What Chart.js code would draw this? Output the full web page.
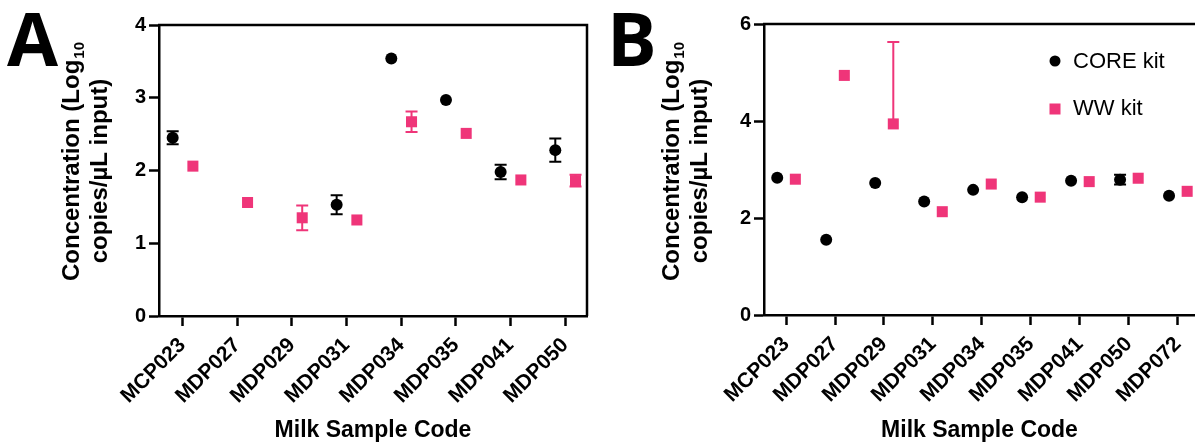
<!DOCTYPE html>
<html>
<head>
<meta charset="utf-8">
<script src="https://cdn.jsdelivr.net/npm/chart.js@4.4.0/dist/chart.umd.min.js"></script>
<style>
  html, body { margin: 0; padding: 0; background: #fff; }
  body { width: 1195px; height: 445px; position: relative; overflow: hidden; }
  .panel { position: absolute; top: 0; height: 445px; }
  #panelA { left: 0; width: 600px; }
  #panelB { left: 600px; width: 595px; }
</style>
</head>
<body>
<div class="panel" id="panelA"><canvas id="chartA"></canvas></div>
<div class="panel" id="panelB"><canvas id="chartB"></canvas></div>
<script>
// ---- Panel A data ----
const samplesA = ['MCP023', 'MDP027', 'MDP029', 'MDP031', 'MDP034', 'MDP035', 'MDP041', 'MDP050'];
const coreA    = [2.45, null, null, 1.53, 3.54, 2.97, 1.98, 2.28];
const coreErrA = [0.09, 0, 0, 0.13, 0, 0, 0.10, 0.16];
const wwA      = [2.06, 1.56, 1.35, 1.32, 2.67, 2.51, 1.87, 1.86];
const wwErrA   = [0, 0, 0.17, 0, 0.14, 0, 0, 0.08];
const yTicksA  = [0, 1, 2, 3, 4];

// ---- Panel B data ----
const samplesB   = ['MCP023', 'MDP027', 'MDP029', 'MDP031', 'MDP034', 'MDP035', 'MDP041', 'MDP050', 'MDP072'];
const coreB      = [2.83, 1.55, 2.72, 2.34, 2.58, 2.43, 2.77, 2.79, 2.46];
const coreErrB   = [0, 0, 0, 0, 0, 0, 0, 0.10, 0];
const wwB        = [2.80, 4.94, 3.94, 2.13, 2.70, 2.43, 2.75, 2.82, 2.55];
const wwErrUpB   = [0, 0, 1.69, 0, 0, 0, 0, 0, 0];
const wwErrDownB = [0, 0, 0, 0, 0, 0, 0, 0, 0];
const yTicksB    = [0, 2, 4, 6];

const seriesNames = ['CORE kit', 'WW kit'];

const PINK = '#EF3579';
const BOLD = '"Liberation Sans", Arial, sans-serif';

// points sit a little left / right of the sample tick
function toPoints(values, up, down, shift) {
    const pts = [];
    values.forEach((v, i) => {
        if (v === null) return;
        pts.push({ x: i + shift, y: v, up: up[i], down: down[i] });
    });
    return pts;
}

// error bars drawn behind the markers
const errorBars = {
    id: 'errorBars',
    beforeDatasetsDraw(chart) {
        const { ctx, scales: { y } } = chart;
        chart.data.datasets.forEach((ds, di) => {
            const meta = chart.getDatasetMeta(di);
            ctx.save();
            ctx.strokeStyle = ds.borderColor;
            ctx.lineWidth = 2;
            ds.data.forEach((p, i) => {
                if (!p.up && !p.down) return;
                const px = meta.data[i].x;
                const top = y.getPixelForValue(p.y + p.up);
                const bot = y.getPixelForValue(p.y - p.down);
                ctx.beginPath();
                ctx.moveTo(px, top);
                ctx.lineTo(px, bot);
                if (p.up) { ctx.moveTo(px - 6, top); ctx.lineTo(px + 6, top); }
                if (p.down) { ctx.moveTo(px - 6, bot); ctx.lineTo(px + 6, bot); }
                ctx.stroke();
            });
            ctx.restore();
        });
    }
};

// frame, titles, panel letter, legend
const decor = {
    id: 'decor',
    afterDraw(chart, args, opts) {
        const { ctx, chartArea: a } = chart;
        ctx.save();
        ctx.strokeStyle = '#000';
        ctx.lineWidth = 2.5;
        ctx.beginPath();
        ctx.moveTo(a.left - 1, a.top);
        ctx.lineTo(opts.rightBorder ? a.right : chart.width, a.top);
        if (opts.rightBorder) ctx.lineTo(a.right, a.bottom);
        ctx.stroke();

        ctx.fillStyle = '#000';
        // panel letter
        ctx.font = 'bold 74px "Open Sans", sans-serif';
        ctx.textAlign = 'left';
        ctx.textBaseline = 'alphabetic';
        ctx.fillText(opts.letter, 7, 66);

        // x title
        ctx.font = 'bold 23px ' + BOLD;
        ctx.textAlign = 'center';
        ctx.textBaseline = 'middle';
        ctx.fillText('Milk Sample Code', (a.left + a.right) / 2, 431);

        // y title, two lines, with subscript
        const t1 = 'Concentration (Log';
        ctx.font = 'bold 24px ' + BOLD;
        const w1 = ctx.measureText(t1).width;
        ctx.font = 'bold 15px ' + BOLD;
        const ws = ctx.measureText('10').width;
        ctx.save();
        ctx.translate(72, 162);
        ctx.rotate(-Math.PI / 2);
        ctx.textAlign = 'left';
        ctx.font = 'bold 24px ' + BOLD;
        ctx.fillText(t1, -(w1 + ws) / 2, 0);
        ctx.font = 'bold 15px ' + BOLD;
        ctx.fillText('10', -(w1 + ws) / 2 + w1 + 1, 8);
        ctx.restore();
        ctx.save();
        ctx.translate(100, 171);
        ctx.rotate(-Math.PI / 2);
        ctx.textAlign = 'center';
        ctx.font = 'bold 24px ' + BOLD;
        ctx.fillText('copies/\u00b5L input)', 0, 0);
        ctx.restore();

        if (opts.legend) {
            const lx = opts.legend.x, ly = opts.legend.y;
            ctx.font = '22px ' + BOLD;
            ctx.textAlign = 'left';
            ctx.beginPath();
            ctx.arc(lx, ly, 5.5, 0, Math.PI * 2);
            ctx.fill();
            ctx.fillText(seriesNames[0], lx + 18, ly + 1);
            ctx.fillStyle = PINK;
            ctx.fillRect(lx - 5.5, ly + 42.5, 11, 11);
            ctx.fillStyle = '#000';
            ctx.fillText(seriesNames[1], lx + 18, ly + 48);
        }
        ctx.restore();
    }
};

function makeChart(id, cfg) {
    return new Chart(document.getElementById(id), {
        type: 'scatter',
        data: {
            datasets: [{
                label: seriesNames[0],
                data: toPoints(cfg.core, cfg.coreUp, cfg.coreDown, -0.18),
                backgroundColor: '#000',
                borderColor: '#000',
                pointStyle: 'circle',
                pointRadius: 6,
                pointBorderWidth: 0
            }, {
                label: seriesNames[1],
                data: toPoints(cfg.ww, cfg.wwUp, cfg.wwDown, 0.19),
                backgroundColor: PINK,
                borderColor: PINK,
                pointStyle: 'rect',
                pointRadius: 7.8,
                pointBorderWidth: 0
            }]
        },
        options: {
            responsive: true,
            maintainAspectRatio: false,
            animation: false,
            layout: {
                autoPadding: false,
                padding: { top: cfg.top, right: cfg.right, left: 0, bottom: 0 }
            },
            plugins: {
                legend: { display: false },
                tooltip: { enabled: false },
                decor: { letter: cfg.letter, rightBorder: cfg.rightBorder, legend: cfg.legend }
            },
            scales: {
                x: {
                    type: 'linear',
                    min: cfg.xMin,
                    max: cfg.xMax,
                    afterBuildTicks: s => { s.ticks = cfg.labels.map((_, i) => ({ value: i })); },
                    afterFit: s => {
                        s.height = 445 - cfg.bottom;
                        s.paddingLeft = 0;
                        s.paddingRight = 0;
                    },
                    ticks: {
                        autoSkip: false,
                        maxRotation: 45,
                        minRotation: 45,
                        padding: 7,
                        color: '#000',
                        font: { family: BOLD, size: 21, weight: 'bold' },
                        callback: v => cfg.labels[v]
                    },
                    grid: { drawOnChartArea: false, tickLength: 10, tickWidth: 2.5, tickColor: '#000' },
                    border: { color: '#000', width: 2.5 }
                },
                y: {
                    min: 0,
                    max: cfg.yTicks[cfg.yTicks.length - 1],
                    afterBuildTicks: s => { s.ticks = cfg.yTicks.map(v => ({ value: v })); },
                    afterFit: s => { s.width = cfg.left; },
                    ticks: {
                        padding: 3,
                        color: '#000',
                        font: { family: BOLD, size: 20, weight: 'bold' }
                    },
                    grid: { drawOnChartArea: false, tickLength: 10, tickWidth: 2.5, tickColor: '#000' },
                    border: { color: '#000', width: 2.5 }
                }
            }
        },
        plugins: [errorBars, decor]
    });
}

makeChart('chartA', {
    letter: 'A', labels: samplesA, yTicks: yTicksA,
    core: coreA, coreUp: coreErrA, coreDown: coreErrA,
    ww: wwA, wwUp: wwErrA, wwDown: wwErrA,
    xMin: -0.43, xMax: 7.4,
    left: 159, top: 25, right: 13, bottom: 316,
    rightBorder: true, legend: null
});

makeChart('chartB', {
    letter: 'B', labels: samplesB, yTicks: yTicksB,
    core: coreB, coreUp: coreErrB, coreDown: coreErrB,
    ww: wwB, wwUp: wwErrUpB, wwDown: wwErrDownB,
    xMin: -0.45, xMax: 8.35,
    left: 164, top: 24, right: 0, bottom: 315,
    rightBorder: false, legend: { x: 455, y: 61 }
});
</script>
</body>
</html>
